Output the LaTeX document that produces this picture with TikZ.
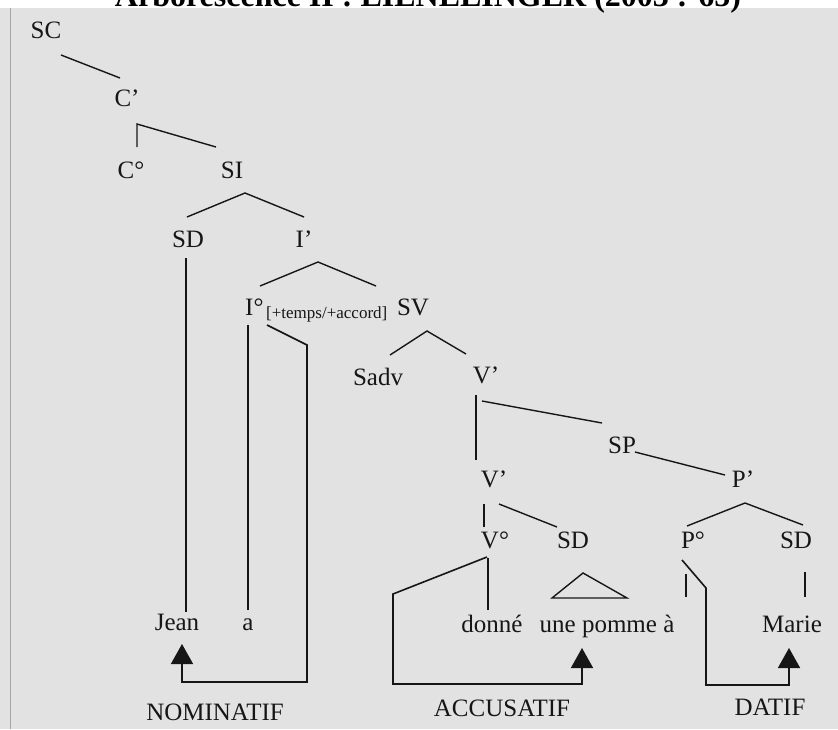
\documentclass[tikz,border=0pt]{standalone}
\usepackage{fontspec}
\setmainfont{Liberation Serif}
\usetikzlibrary{arrows.meta}
\definecolor{paper}{RGB}{226,226,226}
\definecolor{ink}{RGB}{22,22,22}
\begin{document}
\begin{tikzpicture}[x=1pt,y=-1pt,
  lab/.style={font=\fontsize{25}{25}\selectfont, inner sep=0pt, anchor=base, text=ink},
  sublab/.style={font=\fontsize{17}{17}\selectfont, inner sep=0pt, anchor=base west, text=ink},
  br/.style={line width=1.4pt, draw=ink, line join=miter},
  casepath/.style={line width=1.6pt, draw=ink, -{Triangle[length=20pt,width=22pt]}}]
\useasboundingbox (0,0) rectangle (838,729);
\clip (0,0) rectangle (838,729);
\fill[white] (0,0) rectangle (838,729);
\fill[paper] (0,8) rectangle (838,729);
\draw[gray!70, line width=1pt] (10,8) -- (10,729);
% title (cut at the top)
\node[font=\bfseries\fontsize{32}{32}\selectfont, inner sep=0pt, anchor=base] (title) at (428,6) {Arborescence II : LIENELINGER (2003 : 65)};
% nodes
\node[lab] (SC) at (46,38) {SC};
\node[lab] (Cb) at (127,106) {C’};
\node[lab] (C0) at (131,178) {C°};
\node[lab] (SI) at (232,178) {SI};
\node[lab] (SD1) at (188,247) {SD};
\node[lab] (Ib) at (304,247) {I’};
\node[lab, anchor=base west] (I0) at (245,315) {I°};
\node[sublab] (feat) at (266,318) {[+temps/+accord]};
\node[lab] (SV) at (413,315) {SV};
\node[lab] (Sadv) at (378,385) {Sadv};
\node[lab] (Vb1) at (486,383) {V’};
\node[lab] (SP) at (622,453) {SP};
\node[lab] (Vb2) at (494,487) {V’};
\node[lab] (Pb) at (743,487) {P’};
\node[lab] (V0) at (495,548) {V°};
\node[lab] (SD2) at (573,548) {SD};
\node[lab] (P0) at (693,548) {P°};
\node[lab] (SD3) at (796,548) {SD};
\node[lab] (Jean) at (177,630) {Jean};
\node[lab] (a) at (248,630) {a};
\node[lab] (donne) at (492,632) {donné};
\node[lab] (pomme) at (607,632) {une pomme à};
\node[lab] (Marie) at (792,632) {Marie};
\node[lab] (NOM) at (215,720) {NOMINATIF};
\node[lab] (ACC) at (502,716) {ACCUSATIF};
\node[lab] (DAT) at (770,715) {DATIF};
% branch points
\coordinate (SC-b) at (61,55);   \coordinate (Cb-t) at (120,78);
\coordinate (Cb-a) at (137,124); \coordinate (C0-t) at (137,147); \coordinate (SI-t) at (216,147);
\coordinate (SI-a) at (245,193); \coordinate (SD1-t) at (187,217); \coordinate (Ib-t) at (304,217);
\coordinate (SD1-b) at (186,258); \coordinate (Jean-t) at (186,612);
\coordinate (Ib-a) at (318,262); \coordinate (I0-t) at (260,286); \coordinate (SV-t) at (376,286);
\coordinate (I0-b) at (248,325); \coordinate (a-t) at (248,610);
\coordinate (I0-c) at (267,325); \coordinate (n1) at (307,345); \coordinate (n2) at (307,682); \coordinate (n3) at (182,682); \coordinate (Jean-arr) at (182,644);
\coordinate (SV-a) at (427,331); \coordinate (Sadv-t) at (390,355); \coordinate (Vb1-t) at (466,354);
\coordinate (Vb1-b) at (476,395); \coordinate (Vb2-t) at (476,460);
\coordinate (Vb1-c) at (482,401); \coordinate (SP-t) at (602,423);
\coordinate (SP-b) at (635,452); \coordinate (Pb-t) at (725,475);
\coordinate (Vb2-b) at (484,504); \coordinate (V0-t) at (484,527);
\coordinate (Vb2-c) at (499,504); \coordinate (SD2-t) at (557,527);
\coordinate (Pb-a) at (745,503); \coordinate (P0-t) at (687,526); \coordinate (SD3-t) at (803,525);
\coordinate (V0-b) at (488,558); \coordinate (donne-t) at (488,610);
\coordinate (V0-c) at (487,557); \coordinate (c1) at (393,594); \coordinate (c2) at (393,684); \coordinate (c3) at (582,684); \coordinate (pomme-arr) at (582,648);
\coordinate (tri-l) at (552,598); \coordinate (tri-a) at (583,573); \coordinate (tri-r) at (627,598);
\coordinate (P0-b) at (686,574); \coordinate (pomme-t) at (686,597);
\coordinate (P0-c) at (682,560); \coordinate (d1) at (706,588); \coordinate (d2) at (706,685); \coordinate (d3) at (789,685); \coordinate (Marie-arr) at (789,648);
\coordinate (SD3-b) at (805,572); \coordinate (Marie-t) at (805,597);
% branches
\draw[br] (SC-b) -- (Cb-t);
\draw[br] (C0-t) -- (Cb-a) -- (SI-t);
\draw[br] (SD1-t) -- (SI-a) -- (Ib-t);
\draw[br] (SD1-b) -- (Jean-t);
\draw[br] (I0-t) -- (Ib-a) -- (SV-t);
\draw[br] (I0-b) -- (a-t);
\draw[br] (Sadv-t) -- (SV-a) -- (Vb1-t);
\draw[br] (Vb1-b) -- (Vb2-t);
\draw[br] (Vb1-c) -- (SP-t);
\draw[br] (SP-b) -- (Pb-t);
\draw[br] (Vb2-b) -- (V0-t);
\draw[br] (Vb2-c) -- (SD2-t);
\draw[br] (P0-t) -- (Pb-a) -- (SD3-t);
\draw[br] (V0-b) -- (donne-t);
\draw[br] (tri-l) -- (tri-a) -- (tri-r) -- cycle;
\draw[br] (P0-b) -- (pomme-t);
\draw[br] (SD3-b) -- (Marie-t);
% case assignment paths
\draw[casepath] (I0-c) -- (n1) -- (n2) -- (n3) -- (Jean-arr);
\draw[casepath] (V0-c) -- (c1) -- (c2) -- (c3) -- (pomme-arr);
\draw[casepath] (P0-c) -- (d1) -- (d2) -- (d3) -- (Marie-arr);
\end{tikzpicture}
\end{document}
